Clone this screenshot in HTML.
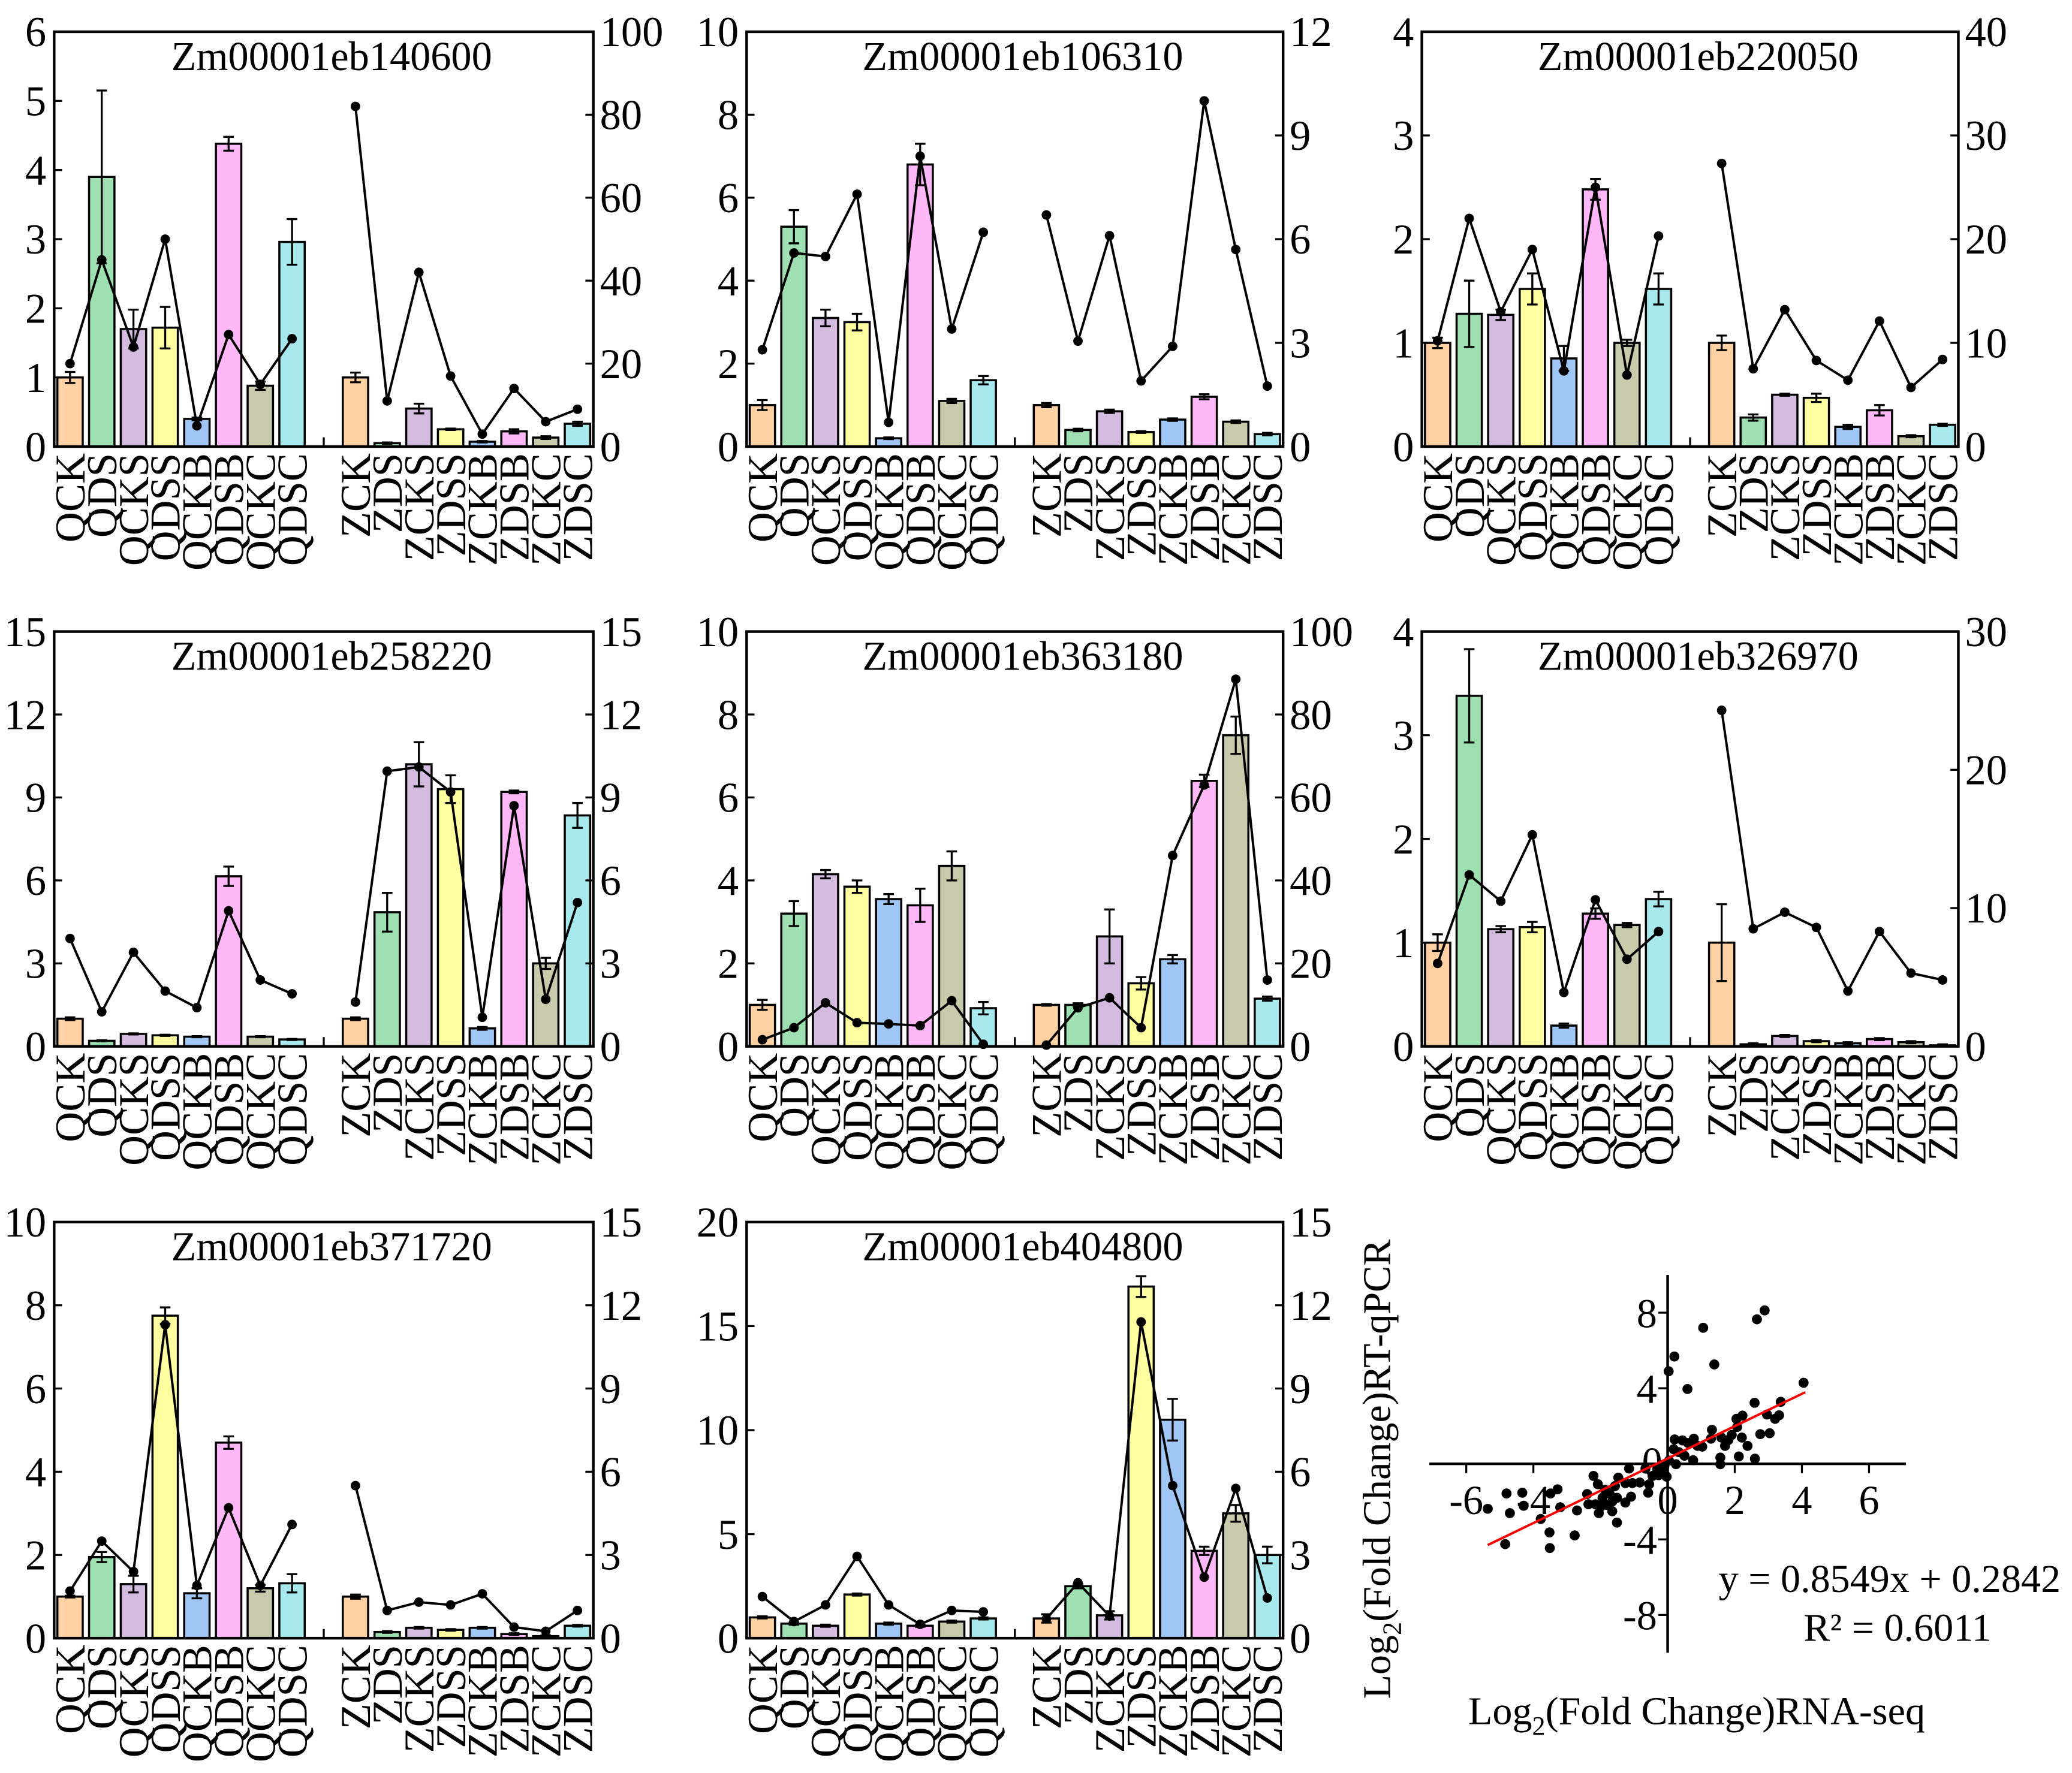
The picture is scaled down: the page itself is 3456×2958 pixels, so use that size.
<!DOCTYPE html>
<html><head><meta charset="utf-8">
<style>
html,body{margin:0;padding:0;background:#fff;}
svg{display:block;}
text{font-family:"Liberation Serif",serif;fill:#000;}
</style></head>
<body>
<svg id="fig" xmlns="http://www.w3.org/2000/svg" width="3456" height="2958" viewBox="0 0 1568 1342"></svg>
<script>
const NS="http://www.w3.org/2000/svg";
const svg=document.getElementById('fig');
function mk(tag,attrs,parent){const e=document.createElementNS(NS,tag);for(const k in attrs)e.setAttribute(k,attrs[k]);(parent||svg).appendChild(e);return e;}

const catsQ=["QCK","QDS","QCKS","QDSS","QCKB","QDSB","QCKC","QDSC"];
const catsZ=["ZCK","ZDS","ZCKS","ZDSS","ZCKB","ZDSB","ZCKC","ZDSC"];
const colors=["#FFD1A3","#9EE0B1","#D3BBE0","#FFFFA2","#A0C6F5","#FFB8F7","#C8CAAC","#A8E9EE"];

const titles=["Zm00001eb140600","Zm00001eb106310","Zm00001eb220050","Zm00001eb258220","Zm00001eb363180","Zm00001eb326970","Zm00001eb371720","Zm00001eb404800"];
const leftMax=[6,10,4,15,10,4,10,20];
const leftStep=[1,2,1,3,2,1,2,5];
const rightMax=[100,12,40,15,100,30,15,15];
const rightStep=[20,3,10,3,20,10,3,3];

const barsQ=[
[1.0,3.9,1.7,1.72,0.4,4.38,0.88,2.96],
[1.0,5.3,3.1,3.0,0.2,6.8,1.1,1.6],
[1.0,1.28,1.27,1.52,0.85,2.48,1.0,1.52],
[1.0,0.2,0.45,0.4,0.35,6.15,0.35,0.25],
[1.0,3.2,4.15,3.85,3.55,3.4,4.35,0.92],
[1.0,3.38,1.13,1.15,0.2,1.28,1.17,1.42],
[1.0,1.95,1.3,7.75,1.08,4.7,1.2,1.32],
[1.0,0.7,0.6,2.1,0.7,0.6,0.8,0.95]];
const errQ=[
[0.08,1.25,0.28,0.3,0.02,0.1,0.06,0.33],
[0.12,0.4,0.2,0.2,0.02,0.5,0.05,0.1],
[0.05,0.32,0.05,0.15,0.12,0.1,0.03,0.15],
[0.05,0.02,0.02,0.02,0.02,0.35,0.02,0.02],
[0.12,0.3,0.1,0.15,0.12,0.4,0.35,0.15],
[0.08,0.45,0.03,0.05,0.02,0.05,0.02,0.07],
[0.02,0.12,0.2,0.2,0.12,0.15,0.08,0.22],
[0.05,0.05,0.05,0.05,0.05,0.05,0.05,0.05]];
const barsZ=[
[1.0,0.05,0.55,0.25,0.07,0.22,0.13,0.33],
[1.0,0.4,0.85,0.35,0.65,1.2,0.6,0.3],
[1.0,0.28,0.5,0.47,0.19,0.35,0.1,0.21],
[1.0,4.85,10.2,9.3,0.65,9.2,3.0,8.35],
[1.0,1.0,2.65,1.52,2.1,6.4,7.5,1.15],
[1.0,0.02,0.1,0.05,0.03,0.07,0.04,0.01],
[1.0,0.15,0.25,0.2,0.25,0.1,0.05,0.3],
[0.95,2.5,1.1,16.9,10.5,4.2,6.0,4.0]];
const errZ=[
[0.07,0.01,0.07,0.01,0.01,0.03,0.02,0.03],
[0.05,0.03,0.04,0.02,0.03,0.06,0.03,0.03],
[0.07,0.03,0.01,0.04,0.02,0.05,0.01,0.01],
[0.05,0.7,0.8,0.5,0.05,0.05,0.2,0.45],
[0.02,0.04,0.65,0.15,0.1,0.15,0.45,0.05],
[0.37,0.01,0.01,0.01,0.01,0.01,0.01,0.01],
[0.05,0.02,0.02,0.02,0.02,0.02,0.02,0.02],
[0.2,0.1,0.2,0.5,1.0,0.2,0.4,0.4]];
const lineQ=[
[20,45,24,50,5,27,15,26],
[2.8,5.6,5.5,7.3,0.7,8.4,3.4,6.2],
[10.2,22,13,19,7.3,25,6.9,20.3],
[3.9,1.25,3.4,2.0,1.4,4.9,2.4,1.9],
[1.6,4.5,10.5,5.7,5.4,5.0,11,0.5],
[6.0,12.4,10.5,15.3,3.9,10.6,6.3,8.3],
[1.7,3.5,2.4,11.3,1.9,4.7,1.9,4.1],
[1.5,0.6,1.2,2.95,1.2,0.5,1.0,0.95]];
const lineZ=[
[82,11,42,17,3,14,6,9],
[6.7,3.05,6.1,1.9,2.9,10.0,5.7,1.75],
[27.3,7.5,13.2,8.3,6.4,12.1,5.7,8.4],
[1.6,9.95,10.1,9.2,1.05,8.7,1.7,5.2],
[0.3,9.3,11.7,4.5,46,63,88.5,16],
[24.3,8.5,9.7,8.6,4.0,8.3,5.3,4.8],
[5.5,1.0,1.3,1.2,1.6,0.4,0.25,1.0],
[0.7,2.0,0.8,11.4,5.5,2.2,5.4,1.45]];

const panelX=[[41,449],[565,971],[1076,1482]];
const panelY=[[24,338],[478,792],[925,1240]];

function drawPanel(i){
  const col=i%3,row=Math.floor(i/3);
  const [L,R]=panelX[col],[T,B]=panelY[row];
  const g=mk('g',{});
  
  
  const slot=(R-L)/17;
  const xC=k=>L+(k+0.5)*slot;
  const yL=v=>B-(v/leftMax[i])*(B-T);
  const yR=v=>B-(v/rightMax[i])*(B-T);
  const cats=catsQ.concat(catsZ);
  const bars=barsQ[i].concat(barsZ[i]);
  const errs=errQ[i].concat(errZ[i]);
  const line=lineQ[i].concat(lineZ[i]);
  const idx=k=>k<8?k:k+1;
  const bw=slot*0.8;
  for(let k=0;k<16;k++){
    const x=xC(idx(k));
    const r=mk('rect',{x:x-bw/2,y:yL(bars[k]),width:bw,height:B-yL(bars[k]),fill:colors[k%8],stroke:'#000','stroke-width':1.6},g);
    
    
    const y1=yL(bars[k]+errs[k]),y2=yL(Math.max(0,bars[k]-errs[k]));
    const e=mk('path',{d:`M${x},${y1}V${y2}M${x-4},${y1}H${x+4}M${x-4},${y2}H${x+4}`,stroke:'#000','stroke-width':1.5,fill:'none'},g);
    
    
  }
  for(const part of [[0,8],[8,16]]){
    let d='';
    for(let k=part[0];k<part[1];k++){d+=(k===part[0]?'M':'L')+xC(idx(k))+','+yR(line[k]);}
    const p=mk('path',{d:d,stroke:'#000','stroke-width':1.8,fill:'none'},g);
    
    
  }
  for(let k=0;k<16;k++){
    const c=mk('circle',{cx:xC(idx(k)),cy:yR(line[k]),r:3.6,fill:'#000'},g);
    
    
  }
  const fr=mk('rect',{x:L,y:T,width:R-L,height:B-T,fill:'none',stroke:'#000','stroke-width':2},g);
  
  
  mk('line',{x1:xC(8),x2:xC(8),y1:B,y2:B-7,stroke:'#000','stroke-width':1.5},g);
  for(let v=0;v<=leftMax[i]+1e-9;v+=leftStep[i]){
    const y=yL(v);
    mk('line',{x1:L,x2:L+6,y1:y,y2:y,stroke:'#000','stroke-width':1.5},g);
    const t=mk('text',{x:L-6,y:y+11,'font-size':32,'text-anchor':'end'},g);t.textContent=v;
    
    
  }
  for(let v=0;v<=rightMax[i]+1e-9;v+=rightStep[i]){
    const y=yR(v);
    mk('line',{x1:R,x2:R-6,y1:y,y2:y,stroke:'#000','stroke-width':1.5},g);
    const t=mk('text',{x:R+5,y:y+11,'font-size':32,'text-anchor':'start'},g);t.textContent=v;
    
    
  }
  for(let k=0;k<16;k++){
    const x=xC(idx(k))+11, y=B+5;
    const t=mk('text',{x:x,y:y,'font-size':32,'text-anchor':'end',transform:`rotate(-90 ${x} ${y})`},g);
    t.textContent=cats[k];
    
    
  }
  const tt=mk('text',{x:(L+R)/2+6,y:T+29,'font-size':31,'text-anchor':'middle'},g);
  tt.textContent=titles[i];
  
  
}
for(let i=0;i<8;i++)drawPanel(i);

// Scatter panel
const scX=[2.89,2.66,1.06,0.2,0.03,1.39,0.59,4.05,3.37,2.59,2.96,3.32,3.2,2.05,2.23,2.07,1.32,3.04,2.76,2.21,1.91,1.81,1.6,1.71,1.29,2.38,0.78,0.44,0.21,0.61,1.03,0.89,0.18,0.33,0.5,2.12,1.57,2.6,0.76,1.57,0.25,0.04,-0.17,-0.27,-0.03,-0.66,-0.45,-0.55,-0.58,-0.83,-1.15,-1.05,-1.26,-1.47,-1.57,-1.09,-1.26,-1.51,-1.65,-1.73,-1.87,-2.08,-2.21,-1.94,-1.8,-2.0,-2.15,-2.36,-2.4,-2.05,-1.65,-1.51,-2.7,-3.2,-3.28,-3.49,-3.78,-3.52,-3.51,-2.77,-4.29,-4.33,-4.8,-4.7,-5.36,-4.84,-0.1,-0.31];
const scY=[8.12,7.65,7.2,5.68,4.9,5.26,3.96,4.29,3.28,3.23,2.61,2.57,2.38,2.38,2.55,1.95,1.8,1.62,1.57,1.39,1.53,1.26,1.39,0.95,1.33,0.95,1.33,1.24,1.29,1.1,0.91,0.95,0.77,0.62,0.43,0.39,0.33,0.27,0.19,-0.02,-0.02,0.17,-0.25,-0.6,-0.68,-0.25,-0.64,-1.08,-1.53,-0.99,-0.25,-1.02,-1.02,-0.73,-1.18,-1.74,-2.05,-1.8,-1.99,-1.57,-1.37,-1.08,-0.64,-1.8,-2.18,-2.28,-2.14,-2.14,-1.6,-2.61,-2.51,-3.11,-2.47,-2.3,-1.35,-1.57,-2.92,-3.63,-4.46,-3.79,-2.22,-1.53,-1.57,-2.61,-2.38,-4.25,-0.15,-0.29];
const fitSlope=0.8549, fitIntercept=0.2842, fitRange=[-5.36,4.1];
const xTicks=[-6,-4,2,4,6];
const yTicks=[8,4,-4,-8];
(function(){
  const g=mk('g',{});
  
  
  const x0=1262,y0=1108,sx=25.4,sy=14.3;
  const X=v=>x0+v*sx, Y=v=>y0-v*sy;
  mk('line',{x1:X(-7.1),x2:X(7.1),y1:y0,y2:y0,stroke:'#000','stroke-width':2},g);
  mk('line',{x1:x0,x2:x0,y1:Y(10),y2:Y(-10),stroke:'#000','stroke-width':2},g);
  for(const v of xTicks){
    mk('line',{x1:X(v),x2:X(v),y1:y0,y2:y0+7,stroke:'#000','stroke-width':1.5},g);
    const t=mk('text',{x:X(v),y:y0+38,'font-size':31,'text-anchor':'middle'},g);t.textContent=v;
    
    
  }
  {const t=mk('text',{x:X(0),y:y0+38,'font-size':31,'text-anchor':'middle'},g);t.textContent='0';
   
   }
  {const t=mk('text',{x:x0-4,y:y0+9,'font-size':31,'text-anchor':'end'},g);t.textContent='0';
   
   }
  for(const v of yTicks){
    mk('line',{x1:x0,x2:x0-7,y1:Y(v),y2:Y(v),stroke:'#000','stroke-width':1.5},g);
    const t=mk('text',{x:x0-8,y:Y(v)+11,'font-size':31,'text-anchor':'end'},g);t.textContent=v;
    
    
  }
  for(let k=0;k<scX.length;k++){
    const c=mk('circle',{cx:X(scX[k]),cy:Y(scY[k]),r:3.8,fill:'#000'},g);
    
    
  }
  const fl=mk('line',{x1:X(fitRange[0]),y1:Y(fitSlope*fitRange[0]+fitIntercept),x2:X(fitRange[1]),y2:Y(fitSlope*fitRange[1]+fitIntercept),stroke:'#FF0000','stroke-width':1.8},g);
  
  
  const eq=mk('text',{x:1430,y:1205,'font-size':30,'text-anchor':'middle'},g);eq.textContent='y = 0.8549x + 0.2842';
  
  
  const r2=mk('text',{x:1436,y:1242,'font-size':30,'text-anchor':'middle'},g);r2.textContent='R² = 0.6011';
  
  
  const xl=mk('text',{x:1284,y:1305,'font-size':30,'text-anchor':'middle'},g);
  xl.innerHTML='Log<tspan font-size="20" dy="8">2</tspan><tspan dy="-8">(Fold Change)RNA-seq</tspan>';
  
  
  const yl=mk('text',{x:1052,y:1112,'font-size':30,'text-anchor':'middle',transform:'rotate(-90 1052 1112)'},g);
  yl.innerHTML='Log<tspan font-size="20" dy="8">2</tspan><tspan dy="-8">(Fold Change)RT-qPCR</tspan>';
  
  
})();
</script>
</body></html>
